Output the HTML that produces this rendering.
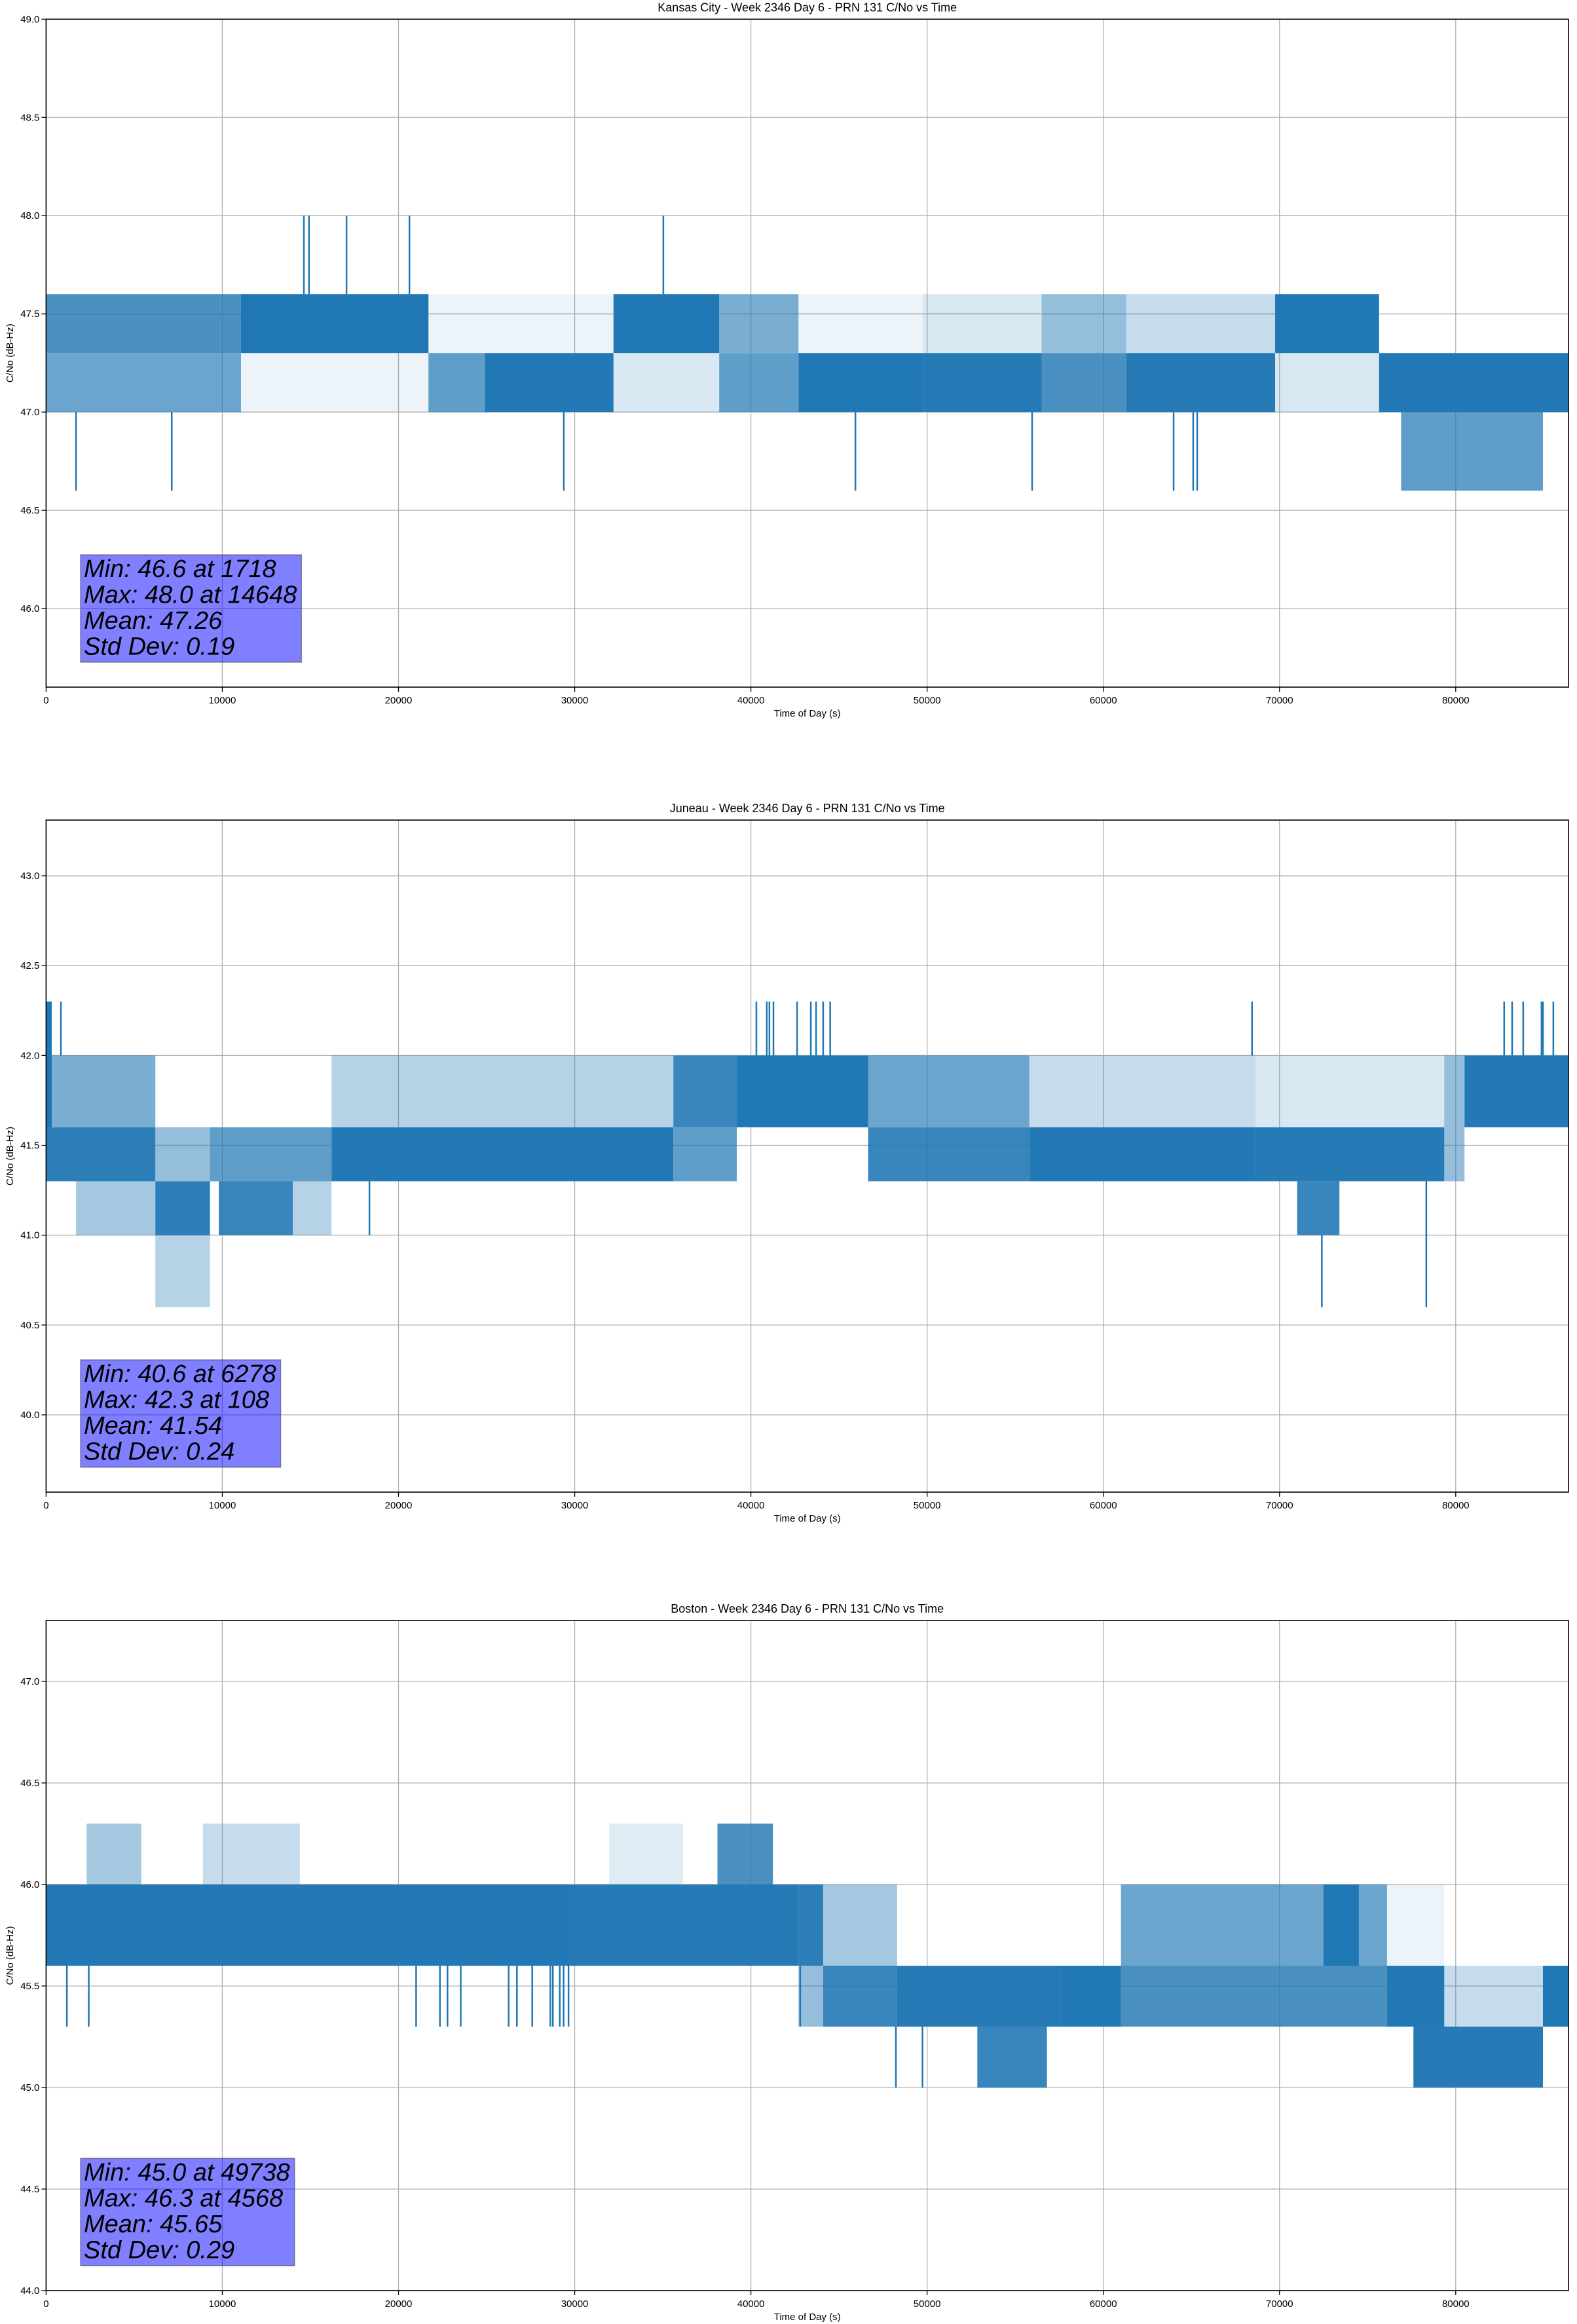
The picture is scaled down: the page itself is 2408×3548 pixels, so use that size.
<!DOCTYPE html>
<html><head><meta charset="utf-8">
<style>
html,body{margin:0;padding:0;background:#fff;}
svg{display:block;font-family:"Liberation Sans","DejaVu Sans",sans-serif;}
</style></head>
<body>
<svg id="fig" width="2408" height="3548" viewBox="0 0 2408 3548" xmlns="http://www.w3.org/2000/svg">
<rect x="0" y="0" width="2408" height="3548" fill="#fff"/>
</svg>
<script>
// ---- shared x axis data ----
const xTicks = [0,10000,20000,30000,40000,50000,60000,70000,80000];
const xDomain = [0, 86400];

// ---- chart 1: Kansas City ----
const kcTitle = "Kansas City - Week 2346 Day 6 - PRN 131 C/No vs Time";
const kcYDomain = [45.6, 49.0];
const kcYTicks = [46.0,46.5,47.0,47.5,48.0,48.5,49.0];
const kcBandStart = [0,0,11060,11060,21700,21700,24900,32200,32200,38200,38200,42700,42700,49750,49750,56500,56500,61300,61300,69750,69750,75650,76900];
const kcBandEnd   = [11060,11060,21700,21700,24900,32200,32200,38200,38200,42700,42700,49750,49750,56500,56500,61300,61300,69750,69750,75650,75650,86400,84950];
const kcBandLow   = [47.3,47.0,47.3,47.0,47.0,47.3,47.0,47.3,47.0,47.3,47.0,47.0,47.3,47.0,47.3,47.0,47.3,47.0,47.3,47.3,47.0,47.0,46.6];
const kcBandHigh  = [47.6,47.3,47.6,47.3,47.3,47.6,47.3,47.6,47.3,47.6,47.3,47.3,47.6,47.3,47.6,47.3,47.6,47.3,47.6,47.6,47.3,47.3,47.0];
const kcBandDensity = [0.6,0.45,1,0.05,0.5,0.05,0.9,0.95,0.1,0.4,0.5,0.95,0.05,0.85,0.1,0.6,0.3,0.85,0.15,0.95,0.1,0.9,0.5];
const kcSpikeX    = [14630,14920,17050,20620,35030,1700,7130,29380,45930,55960,63990,65100,65330];
const kcSpikeFrom = [47.6,47.6,47.6,47.6,47.6,47.0,47.0,47.0,47.0,47.0,47.0,47.0,47.0];
const kcSpikeTo   = [48.0,48.0,48.0,48.0,48.0,46.6,46.6,46.6,46.6,46.6,46.6,46.6,46.6];
const kcStats = ["Min: 46.6 at 1718","Max: 48.0 at 14648","Mean: 47.26","Std Dev: 0.19"];

// ---- chart 2: Juneau ----
const jnTitle = "Juneau - Week 2346 Day 6 - PRN 131 C/No vs Time";
const jnYDomain = [39.57, 43.31];
const jnYTicks = [40.0,40.5,41.0,41.5,42.0,42.5,43.0];
const jnBandStart = [0,0,320,0,1700,6200,6200,6200,9300,9800,14000,16200,16200,35600,35600,39200,46650,46650,55800,55800,68650,71000,68650,79350,79350,80500];
const jnBandEnd   = [320,320,6200,6200,6200,9300,9300,9300,16200,14000,16200,35600,35600,39200,39200,46650,55800,55800,68650,68650,79350,73400,79350,80500,80500,86400];
const jnBandLow   = [42.0,41.6,41.6,41.3,41.0,41.3,41.0,40.6,41.3,41.0,41.0,41.3,41.6,41.6,41.3,41.6,41.6,41.3,41.3,41.6,41.3,41.0,41.6,41.6,41.3,41.6];
const jnBandHigh  = [42.3,42.0,42.0,41.6,41.3,41.6,41.3,41.0,41.6,41.3,41.3,41.6,42.0,42.0,41.6,42.0,42.0,41.6,41.6,42.0,41.6,41.3,42.0,42.0,41.6,42.0];
const jnBandDensity = [1,1,0.4,0.8,0.25,0.3,0.8,0.2,0.5,0.7,0.2,0.9,0.2,0.7,0.5,1,0.45,0.7,0.9,0.15,0.85,0.7,0.1,0.3,0.3,0.9];
const jnSpikeX    = [840,40310,40900,41050,41280,42620,43400,43700,44100,44500,68440,82750,83200,83830,84870,84950,85540,18350,72400,78330];
const jnSpikeFrom = [42.0,42.0,42.0,42.0,42.0,42.0,42.0,42.0,42.0,42.0,42.0,42.0,42.0,42.0,42.0,42.0,42.0,41.3,41.0,41.3];
const jnSpikeTo   = [42.3,42.3,42.3,42.3,42.3,42.3,42.3,42.3,42.3,42.3,42.3,42.3,42.3,42.3,42.3,42.3,42.3,41.0,40.6,40.6];
const jnStats = ["Min: 40.6 at 6278","Max: 42.3 at 108","Mean: 41.54","Std Dev: 0.24"];

// ---- chart 3: Boston ----
const bsTitle = "Boston - Week 2346 Day 6 - PRN 131 C/No vs Time";
const bsYDomain = [44.0, 47.3];
const bsYTicks = [44.0,44.5,45.0,45.5,46.0,46.5,47.0];
const bsBandStart = [0,2300,8900,29700,31950,38100,42700,42700,44100,44100,48300,52850,57630,61000,61000,72500,76100,76100,77600,79350,84950];
const bsBandEnd   = [29700,5400,14400,42700,36150,41250,44100,44100,48300,48300,57630,56800,61000,76100,76100,74500,79350,79350,84950,84950,86400];
const bsBandLow   = [45.6,46.0,46.0,45.6,46.0,46.0,45.6,45.3,45.6,45.3,45.3,45.0,45.3,45.6,45.3,45.6,45.3,45.6,45.0,45.3,45.3];
const bsBandHigh  = [46.0,46.3,46.3,46.0,46.3,46.3,46.0,45.6,46.0,45.6,45.6,45.3,45.6,46.0,45.6,46.0,45.6,46.0,45.3,45.6,45.6];
const bsBandDensity = [0.9,0.25,0.15,0.85,0.08,0.6,0.8,0.3,0.25,0.7,0.85,0.7,0.95,0.45,0.6,1,0.9,0.05,0.85,0.15,1];
const bsSpikeX    = [1180,2420,21000,22350,22780,23530,26250,26720,27590,28620,28760,29150,29370,29650,42800,48230,49738];
const bsSpikeFrom = [45.6,45.6,45.6,45.6,45.6,45.6,45.6,45.6,45.6,45.6,45.6,45.6,45.6,45.6,45.6,45.3,45.3];
const bsSpikeTo   = [45.3,45.3,45.3,45.3,45.3,45.3,45.3,45.3,45.3,45.3,45.3,45.3,45.3,45.3,45.3,45.0,45.0];
const bsStats = ["Min: 45.0 at 49738","Max: 46.3 at 4568","Mean: 45.65","Std Dev: 0.29"];

const NS = "http://www.w3.org/2000/svg";
const svg = document.getElementById("fig");
const LEFT = 70.4, RIGHT = 2395;
const BLUE = "#1f77b4";

function mk(tag, attrs, parent){
  const e = document.createElementNS(NS, tag);
  for (const k in attrs) e.setAttribute(k, attrs[k]);
  (parent || svg).appendChild(e);
  return e;
}
function xScale(s){ return LEFT + (s - xDomain[0]) / (xDomain[1] - xDomain[0]) * (RIGHT - LEFT); }
// visual coverage of 2.5px-wide trace lines is higher than raw density
function coverage(d){ return Math.min(1, 1 - Math.pow(1 - d, 1.8)); }

function drawChart(key, top, bottom, title, yDomain, yTicks, bStart, bEnd, bLow, bHigh, bDen, spX, spFrom, spTo, stats){
  const g = mk("g", {});
  
  
  const yScale = v => bottom - (v - yDomain[0]) / (yDomain[1] - yDomain[0]) * (bottom - top);

  const grid = mk("g", {}, g);
  
  
  xTicks.forEach(t => {
    const l = mk("line", {x1:xScale(t), x2:xScale(t), y1:top, y2:bottom, stroke:"#b0b0b0", "stroke-width":1.3}, grid);
    
    
  });
  yTicks.forEach(t => {
    const l = mk("line", {x1:LEFT, x2:RIGHT, y1:yScale(t), y2:yScale(t), stroke:"#b0b0b0", "stroke-width":1.3}, grid);
    
    
  });

  const ser = mk("g", {}, g);
  
  
  for (let i = 0; i < bStart.length; i++){
    const x0 = xScale(bStart[i]), x1 = xScale(bEnd[i]);
    const y0 = yScale(bHigh[i]), y1 = yScale(bLow[i]);
    const r = mk("rect", {x:x0, y:y0, width:Math.max(1, x1 - x0), height:y1 - y0, fill:BLUE, "fill-opacity":coverage(bDen[i])}, ser);
    
    
  }
  for (let i = 0; i < spX.length; i++){
    const x = xScale(spX[i]);
    const l = mk("line", {x1:x, x2:x, y1:yScale(spFrom[i]), y2:yScale(spTo[i]), stroke:BLUE, "stroke-width":2.5}, ser);
    
    
  }

  const fr = mk("rect", {x:LEFT, y:top, width:RIGHT-LEFT, height:bottom-top, fill:"none", stroke:"#000", "stroke-width":1.6}, g);
  
  

  xTicks.forEach(t => {
    const x = xScale(t);
    mk("line", {x1:x, x2:x, y1:bottom, y2:bottom+7, stroke:"#000", "stroke-width":1.3}, g);
    const tx = mk("text", {x:x, y:bottom+25, "font-size":15, "text-anchor":"middle", fill:"#000"}, g);
    tx.textContent = String(t);
    
    
  });
  yTicks.forEach(t => {
    const y = yScale(t);
    mk("line", {x1:LEFT-7, x2:LEFT, y1:y, y2:y, stroke:"#000", "stroke-width":1.3}, g);
    const tx = mk("text", {x:LEFT-10, y:y+5, "font-size":15, "text-anchor":"end", fill:"#000"}, g);
    tx.textContent = t.toFixed(1);
    
    
  });

  const tt = mk("text", {x:(LEFT+RIGHT)/2, y:top-12, "font-size":18, "text-anchor":"middle", fill:"#000"}, g);
  tt.textContent = title;
  
  

  const xl = mk("text", {x:(LEFT+RIGHT)/2, y:bottom+45, "font-size":15, "text-anchor":"middle", fill:"#000"}, g);
  xl.textContent = "Time of Day (s)";
  
  

  const cy = (top+bottom)/2;
  const yl = mk("text", {x:0, y:0, "font-size":15, "text-anchor":"middle", fill:"#000", transform:"translate(20," + cy + ") rotate(-90)"}, g);
  yl.textContent = "C/No (dB-Hz)";
  
  

  const sb = mk("g", {}, g);
  
  
  const boxBottom = bottom - 38, boxTop = boxBottom - 164;
  const bg = mk("rect", {x:123, y:boxTop, width:300, height:164, fill:"#0000ff", "fill-opacity":0.5, stroke:"#333", "stroke-opacity":0.5, "stroke-width":1.5}, sb);
  let maxW = 0;
  stats.forEach((s, i) => {
    const t = mk("text", {x:128, y:boxTop + 34 + i*39.5, "font-size":38, "font-style":"italic", fill:"#000"}, sb);
    t.textContent = s;
    
    
    try { maxW = Math.max(maxW, t.getComputedTextLength()); } catch(e){}
  });
  if (maxW > 0) bg.setAttribute("width", maxW + 12);
}

drawChart("kansas-city", 29.3, 1049, kcTitle, kcYDomain, kcYTicks, kcBandStart, kcBandEnd, kcBandLow, kcBandHigh, kcBandDensity, kcSpikeX, kcSpikeFrom, kcSpikeTo, kcStats);
drawChart("juneau", 1252, 2278, jnTitle, jnYDomain, jnYTicks, jnBandStart, jnBandEnd, jnBandLow, jnBandHigh, jnBandDensity, jnSpikeX, jnSpikeFrom, jnSpikeTo, jnStats);
drawChart("boston", 2474, 3497, bsTitle, bsYDomain, bsYTicks, bsBandStart, bsBandEnd, bsBandLow, bsBandHigh, bsBandDensity, bsSpikeX, bsSpikeFrom, bsSpikeTo, bsStats);
</script>
</body></html>
